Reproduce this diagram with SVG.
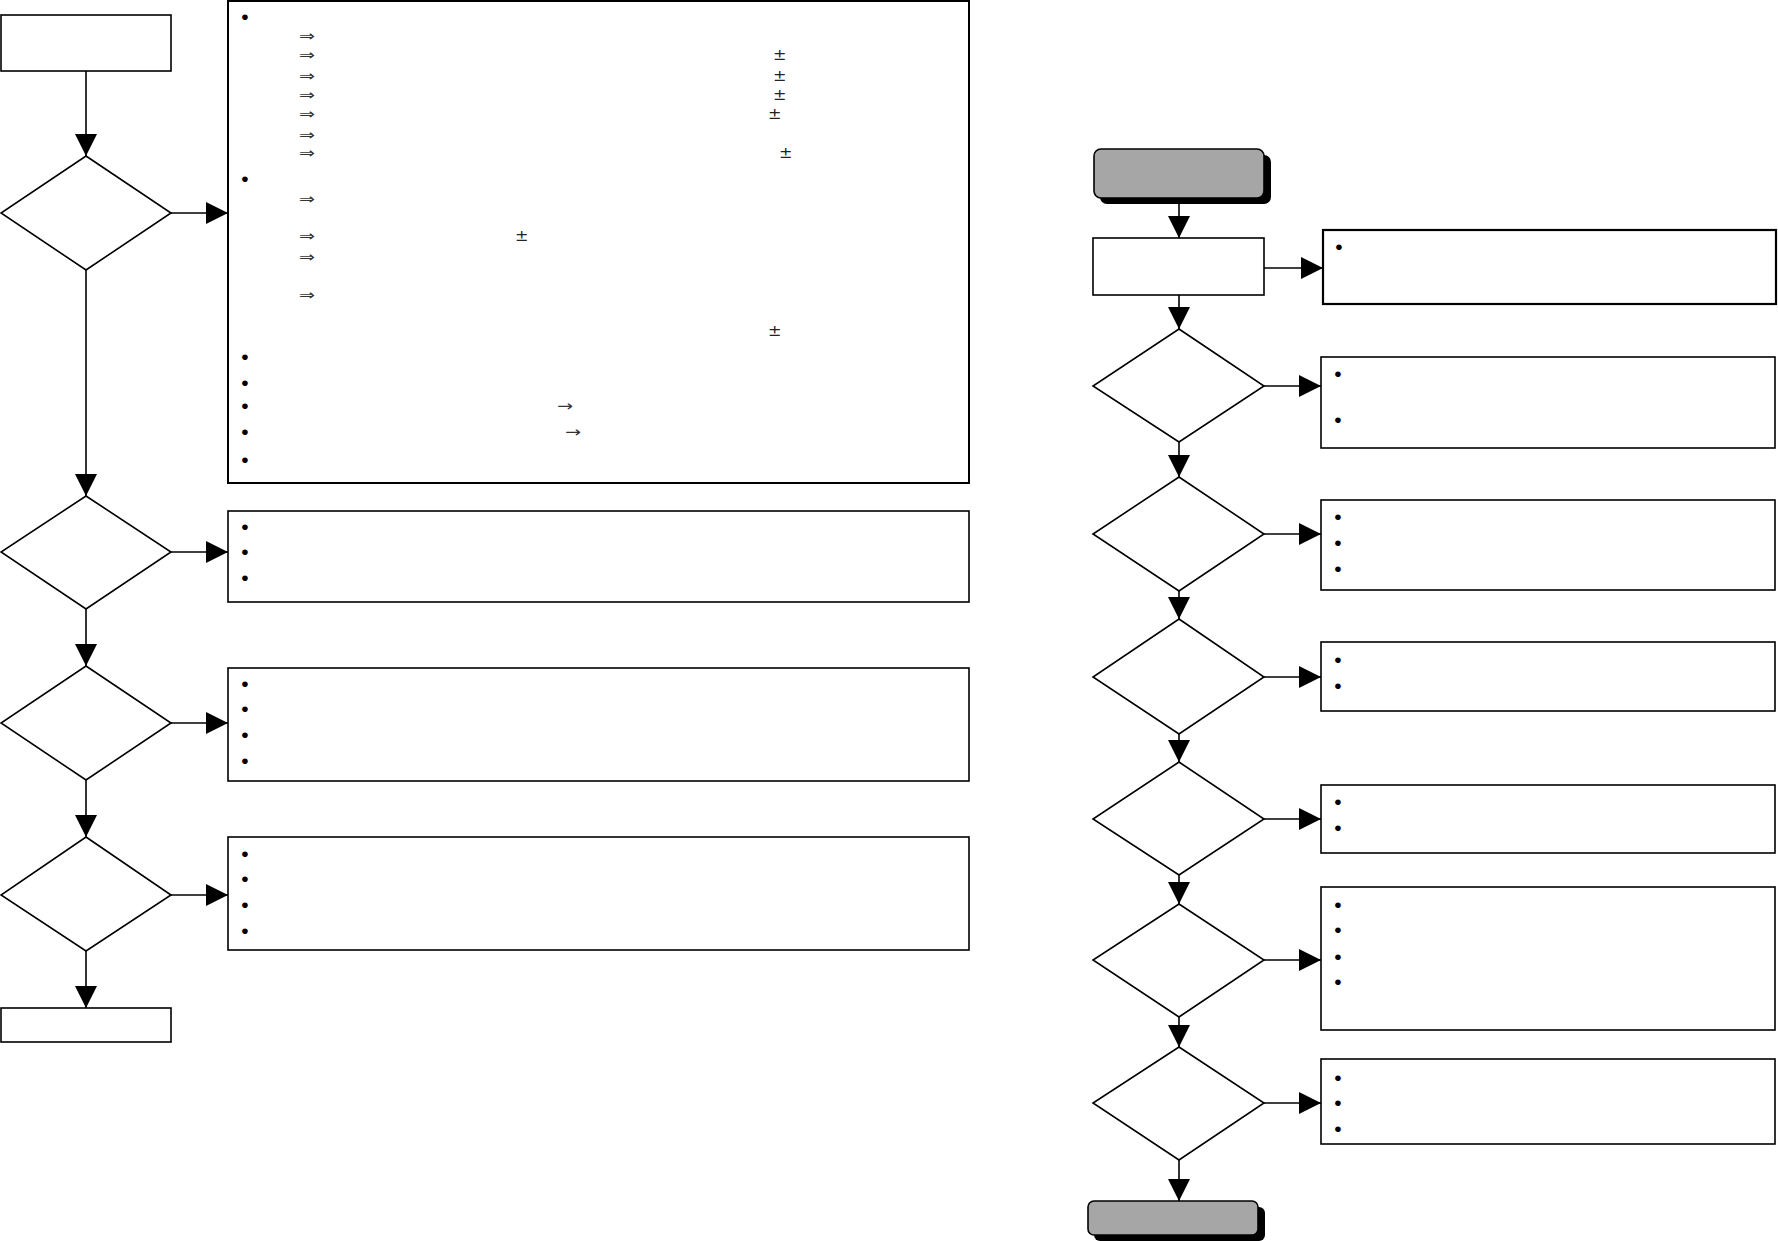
<svg xmlns="http://www.w3.org/2000/svg" width="1778" height="1241" viewBox="0 0 1778 1241">
<style>
.box{fill:#fff;stroke:#000;stroke-width:1.6}
.bigbox{fill:#fff;stroke:#000;stroke-width:2}
.dia{fill:#fff;stroke:#000;stroke-width:1.6}
.term{fill:#a6a6a6;stroke:#000;stroke-width:1.6}
.shadow{fill:#000}
.con{stroke:#000;stroke-width:1.6;fill:none;marker-end:url(#ah)}
.b{font-family:"Liberation Sans",Arial,sans-serif;font-size:21px;fill:#000;text-anchor:middle}
.s{font-family:"DejaVu Sans",sans-serif;font-size:15px;fill:#333}
.pm{font-family:"DejaVu Sans",sans-serif;font-size:16px;fill:#222}
</style>
<defs>
<marker id="ah" markerUnits="userSpaceOnUse" markerWidth="22" markerHeight="22" refX="22" refY="11" orient="auto">
<path d="M0,0 L22,11 L0,22 z" fill="#000"/>
</marker>
</defs>
<rect width="1778" height="1241" fill="#fff"/>

<g id="connectors">
<line class="con" x1="86" y1="71" x2="86" y2="156"/>
<line class="con" x1="171" y1="213" x2="228" y2="213"/>
<line class="con" x1="86" y1="270" x2="86" y2="496"/>
<line class="con" x1="171" y1="552" x2="228" y2="552"/>
<line class="con" x1="86" y1="609" x2="86" y2="666"/>
<line class="con" x1="171" y1="723" x2="228" y2="723"/>
<line class="con" x1="86" y1="780" x2="86" y2="837"/>
<line class="con" x1="171" y1="895" x2="228" y2="895"/>
<line class="con" x1="86" y1="951" x2="86" y2="1008"/>

<line class="con" x1="1179" y1="204" x2="1179" y2="238"/>
<line class="con" x1="1264" y1="268" x2="1323" y2="268"/>
<line class="con" x1="1179" y1="295" x2="1179" y2="329"/>
<line class="con" x1="1264" y1="386" x2="1321" y2="386"/>
<line class="con" x1="1179" y1="442" x2="1179" y2="477"/>
<line class="con" x1="1264" y1="534" x2="1321" y2="534"/>
<line class="con" x1="1179" y1="591" x2="1179" y2="619"/>
<line class="con" x1="1264" y1="677" x2="1321" y2="677"/>
<line class="con" x1="1179" y1="734" x2="1179" y2="762"/>
<line class="con" x1="1264" y1="819" x2="1321" y2="819"/>
<line class="con" x1="1179" y1="875" x2="1179" y2="904"/>
<line class="con" x1="1264" y1="960" x2="1321" y2="960"/>
<line class="con" x1="1179" y1="1017" x2="1179" y2="1047"/>
<line class="con" x1="1264" y1="1103" x2="1321" y2="1103"/>
<line class="con" x1="1179" y1="1160" x2="1179" y2="1201"/>
</g>

<g id="start-left"><rect class="box" x="1" y="15" width="170" height="56"/></g>
<g id="d1"><polygon class="dia" points="86,156 171,213 86,270 1,213"/></g>
<g id="b1">
<rect class="bigbox" x="228" y="1" width="741" height="482"/>
<text class="b" x="245" y="24">•</text>
<text class="s" x="299" y="41" textLength="16" lengthAdjust="spacingAndGlyphs">⇒</text>
<text class="s" x="299" y="60" textLength="16" lengthAdjust="spacingAndGlyphs">⇒</text>
<text class="s" x="299" y="81" textLength="16" lengthAdjust="spacingAndGlyphs">⇒</text>
<text class="s" x="299" y="100" textLength="16" lengthAdjust="spacingAndGlyphs">⇒</text>
<text class="s" x="299" y="119" textLength="16" lengthAdjust="spacingAndGlyphs">⇒</text>
<text class="s" x="299" y="140" textLength="16" lengthAdjust="spacingAndGlyphs">⇒</text>
<text class="s" x="299" y="158" textLength="16" lengthAdjust="spacingAndGlyphs">⇒</text>
<text class="pm" x="773" y="60">±</text>
<text class="pm" x="773" y="81">±</text>
<text class="pm" x="773" y="100">±</text>
<text class="pm" x="768" y="119">±</text>
<text class="pm" x="779" y="158">±</text>
<text class="b" x="245" y="186">•</text>
<text class="s" x="299" y="204" textLength="16" lengthAdjust="spacingAndGlyphs">⇒</text>
<text class="s" x="299" y="241" textLength="16" lengthAdjust="spacingAndGlyphs">⇒</text>
<text class="pm" x="515" y="241">±</text>
<text class="s" x="299" y="262" textLength="16" lengthAdjust="spacingAndGlyphs">⇒</text>
<text class="s" x="299" y="300" textLength="16" lengthAdjust="spacingAndGlyphs">⇒</text>
<text class="pm" x="768" y="336">±</text>
<text class="b" x="245" y="364">•</text>
<text class="b" x="245" y="390">•</text>
<text class="b" x="245" y="413">•</text>
<text class="s" x="557" y="411" textLength="16" lengthAdjust="spacingAndGlyphs">→</text>
<text class="b" x="245" y="439">•</text>
<text class="s" x="565" y="437" textLength="16" lengthAdjust="spacingAndGlyphs">→</text>
<text class="b" x="245" y="467">•</text>
</g>

<g id="d2"><polygon class="dia" points="86,496 171,552 86,609 1,552"/></g>
<g id="b2">
<rect class="box" x="228" y="511" width="741" height="91"/>
<text class="b" x="245" y="534">•</text>
<text class="b" x="245" y="559">•</text>
<text class="b" x="245" y="585">•</text>
</g>

<g id="d3"><polygon class="dia" points="86,666 171,723 86,780 1,723"/></g>
<g id="b3">
<rect class="box" x="228" y="668" width="741" height="113"/>
<text class="b" x="245" y="691">•</text>
<text class="b" x="245" y="716">•</text>
<text class="b" x="245" y="742">•</text>
<text class="b" x="245" y="768">•</text>
</g>

<g id="d4"><polygon class="dia" points="86,837 171,895 86,951 1,895"/></g>
<g id="b4">
<rect class="box" x="228" y="837" width="741" height="113"/>
<text class="b" x="245" y="861">•</text>
<text class="b" x="245" y="886">•</text>
<text class="b" x="245" y="912">•</text>
<text class="b" x="245" y="938">•</text>
</g>

<g id="end-left"><rect class="box" x="1" y="1008" width="170" height="34"/></g>

<g id="t1">
<rect class="shadow" x="1100" y="155" width="171" height="49" rx="7"/>
<rect class="term" x="1094" y="149" width="170" height="49" rx="7"/>
</g>
<g id="r1"><rect class="box" x="1093" y="238" width="171" height="57"/></g>
<g id="c1">
<rect class="box" x="1323" y="230" width="453" height="74" style="stroke-width:2.2"/>
<text class="b" x="1339" y="254">•</text>
</g>

<g id="d5"><polygon class="dia" points="1179,329 1264,386 1179,442 1093,386"/></g>
<g id="c2">
<rect class="box" x="1321" y="357" width="454" height="91"/>
<text class="b" x="1338" y="381">•</text>
<text class="b" x="1338" y="427">•</text>
</g>

<g id="d6"><polygon class="dia" points="1179,477 1264,534 1179,591 1093,534"/></g>
<g id="c3">
<rect class="box" x="1321" y="500" width="454" height="90"/>
<text class="b" x="1338" y="524">•</text>
<text class="b" x="1338" y="550">•</text>
<text class="b" x="1338" y="576">•</text>
</g>

<g id="d7"><polygon class="dia" points="1179,619 1264,677 1179,734 1093,677"/></g>
<g id="c4">
<rect class="box" x="1321" y="642" width="454" height="69"/>
<text class="b" x="1338" y="667">•</text>
<text class="b" x="1338" y="693">•</text>
</g>

<g id="d8"><polygon class="dia" points="1179,762 1264,819 1179,875 1093,819"/></g>
<g id="c5">
<rect class="box" x="1321" y="785" width="454" height="68"/>
<text class="b" x="1338" y="809">•</text>
<text class="b" x="1338" y="835">•</text>
</g>

<g id="d9"><polygon class="dia" points="1179,904 1264,960 1179,1017 1093,960"/></g>
<g id="c6">
<rect class="box" x="1321" y="887" width="454" height="143"/>
<text class="b" x="1338" y="912">•</text>
<text class="b" x="1338" y="937">•</text>
<text class="b" x="1338" y="964">•</text>
<text class="b" x="1338" y="989">•</text>
</g>

<g id="d10"><polygon class="dia" points="1179,1047 1264,1103 1179,1160 1093,1103"/></g>
<g id="c7">
<rect class="box" x="1321" y="1059" width="454" height="85"/>
<text class="b" x="1338" y="1085">•</text>
<text class="b" x="1338" y="1110">•</text>
<text class="b" x="1338" y="1136">•</text>
</g>

<g id="t2">
<rect class="shadow" x="1094" y="1207" width="171" height="34" rx="6"/>
<rect class="term" x="1088" y="1201" width="170" height="34" rx="6"/>
</g>
</svg>
